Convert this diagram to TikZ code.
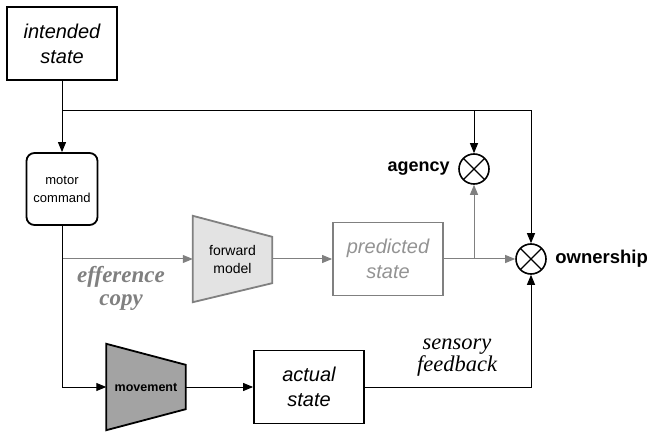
\documentclass[tikz,border=0pt]{standalone}
\usepackage{fontspec}
\setmainfont{Liberation Sans}
\newfontfamily\timesfont{Liberation Serif}
\usetikzlibrary{positioning, arrows.meta, calc, backgrounds}
\definecolor{lightgrey}{gray}{0.89}
\definecolor{midgrey}{gray}{0.64}
\definecolor{linegrey}{gray}{0.5}

\begin{document}
\begin{tikzpicture}[x=1pt, y=1pt,
    statebox/.style={rectangle, draw=black, line width=1.8pt, minimum width=110pt, minimum height=73pt, inner sep=0pt, align=center, font=\fontsize{20}{25}\selectfont\itshape},
    cmdbox/.style={rectangle, rounded corners=8pt, draw=black, line width=1.8pt, minimum width=71pt, minimum height=72pt, inner sep=0pt, align=center, font=\fontsize{13}{18}\selectfont},
    trapbox/.style={rectangle, minimum width=79pt, minimum height=86pt, inner sep=0pt, align=center},
    compnode/.style={circle, draw=black, line width=1.6pt, minimum size=30pt, inner sep=0pt,
        path picture={\draw[line width=1.4pt] (path picture bounding box.north west) -- (path picture bounding box.south east)
            (path picture bounding box.north east) -- (path picture bounding box.south west);}},
    arr/.style={-{Triangle[length=10pt,width=8pt]}, line width=1pt},
    greyarr/.style={arr, draw=linegrey, fill=linegrey},
]
\useasboundingbox (0,0) rectangle (654,437);

% boxes
\node[statebox](intended) at (62,393.5){intended\\state};
\node[cmdbox](motor) at (62,248){motor\\command};
\node[trapbox, font=\fontsize{14}{18}\selectfont](fwd) at (232.5,178){forward\\model};
\node[statebox, draw=linegrey, text=linegrey!85](pred) at (388,178){predicted\\state};
\node[trapbox, font=\fontsize{12.5}{15}\selectfont\bfseries](move) at (146,50){movement};
\node[statebox](actual) at (309,50){actual\\state};

% comparators
\node[compnode](agency) at (474,268){};
\node[compnode](own) at (531,178){};
\node[font=\fontsize{18}{20}\selectfont\bfseries](agencylbl)[left = 5pt of agency]{agency};
\node[font=\fontsize{18.5}{20}\selectfont\bfseries](ownlbl)[right = 5pt of own]{ownership};

% trapezia
\begin{scope}[on background layer]
\draw[fill=lightgrey, draw=linegrey, line width=1.8pt] (fwd.north west) -- ($(fwd.north east)+(0,-21)$) -- ($(fwd.south east)+(0,19)$) -- (fwd.south west) -- cycle;
\draw[fill=midgrey, draw=black, line width=1.8pt] (move.north west) -- ($(move.north east)+(0,-21)$) -- ($(move.south east)+(0,21)$) -- (move.south west) -- cycle;
\end{scope}

% labels
\node[align=center, text=linegrey, font=\timesfont\fontsize{23}{23}\selectfont\bfseries\itshape](effcopy) at (121,148.5){efference\\copy};
\node[align=center, font=\timesfont\fontsize{22.5}{22}\selectfont\itshape](sensfb) at (457,79){sensory\\feedback};

% junctions
\coordinate (topj) at (62,326);
\coordinate (effj) at (62,178);
\coordinate (predj) at (474,178);

% connectors
\draw[arr] (intended) -- (motor);
\draw[arr] (topj) -| (agency);
\draw[arr] (topj) -| (own);
\draw[greyarr] (effj) -- (fwd);
\draw[greyarr] (fwd) -- (pred);
\draw[greyarr] (pred) -- (own);
\draw[greyarr] (predj) -- (agency);
\draw[arr] (motor) |- (move);
\draw[arr] (move) -- (actual);
\draw[arr] (actual) -| (own);
\end{tikzpicture}
\end{document}
